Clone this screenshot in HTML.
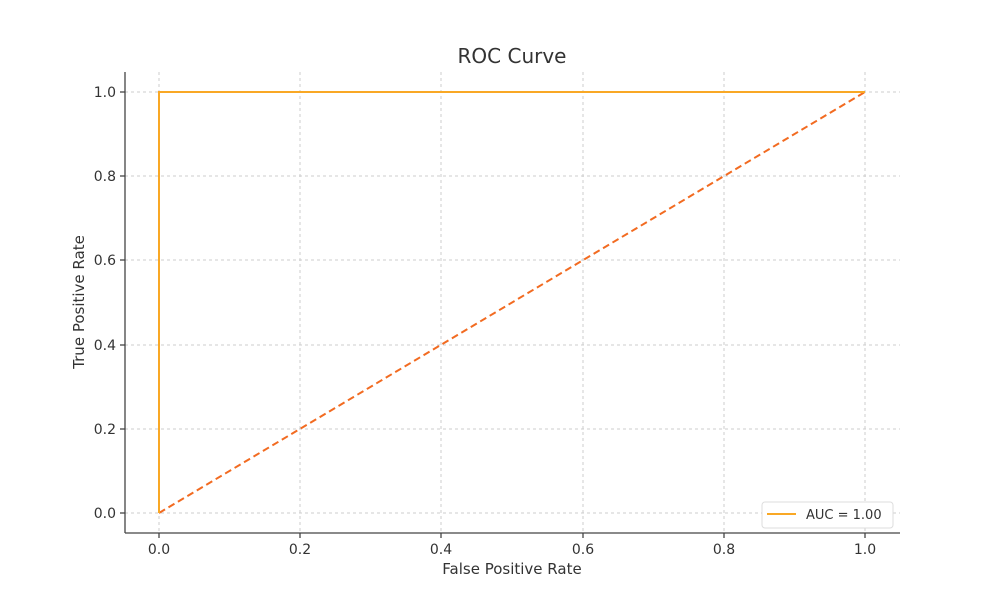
<!DOCTYPE html>
<html><head><style>body{margin:0;background:#fff}</style></head><body>
<svg width="1000" height="600" xmlns="http://www.w3.org/2000/svg" font-family="DejaVu Sans, Liberation Sans, sans-serif">
<rect width="1000" height="600" fill="#fff"/>
<g stroke="#ccc" stroke-width="1" stroke-dasharray="3,3">
<line x1="159" y1="72" x2="159" y2="533"/><line x1="300" y1="72" x2="300" y2="533"/><line x1="441" y1="72" x2="441" y2="533"/><line x1="583" y1="72" x2="583" y2="533"/><line x1="724" y1="72" x2="724" y2="533"/><line x1="865" y1="72" x2="865" y2="533"/>
<line x1="125" y1="92" x2="900" y2="92"/><line x1="125" y1="176" x2="900" y2="176"/><line x1="125" y1="260" x2="900" y2="260"/><line x1="125" y1="345" x2="900" y2="345"/><line x1="125" y1="429" x2="900" y2="429"/><line x1="125" y1="513" x2="900" y2="513"/>
</g>
<line x1="159" y1="513" x2="865" y2="92" stroke="#f26b21" stroke-width="2" stroke-dasharray="7,4"/>
<polyline points="159,513 159,92 865,92" fill="none" stroke="#f9a825" stroke-width="2"/>
<g stroke="#444" stroke-width="1.3">
<line x1="125" y1="72" x2="125" y2="533"/><line x1="125" y1="533" x2="900" y2="533"/>
<line x1="120" y1="92" x2="125" y2="92"/><line x1="120" y1="176" x2="125" y2="176"/><line x1="120" y1="260" x2="125" y2="260"/><line x1="120" y1="345" x2="125" y2="345"/><line x1="120" y1="429" x2="125" y2="429"/><line x1="120" y1="513" x2="125" y2="513"/>
<line x1="159" y1="533" x2="159" y2="538"/><line x1="300" y1="533" x2="300" y2="538"/><line x1="441" y1="533" x2="441" y2="538"/><line x1="583" y1="533" x2="583" y2="538"/><line x1="724" y1="533" x2="724" y2="538"/><line x1="865" y1="533" x2="865" y2="538"/>
</g>
<g font-size="14" fill="#333" text-anchor="end">
<text x="116" y="97">1.0</text><text x="116" y="181">0.8</text><text x="116" y="265">0.6</text><text x="116" y="350">0.4</text><text x="116" y="434">0.2</text><text x="116" y="518">0.0</text>
</g>
<g font-size="14" fill="#333" text-anchor="middle">
<text x="159" y="554">0.0</text><text x="300" y="554">0.2</text><text x="441" y="554">0.4</text><text x="583" y="554">0.6</text><text x="724" y="554">0.8</text><text x="865" y="554">1.0</text>
<text x="512" y="574" font-size="15">False Positive Rate</text>
<text x="512" y="63" font-size="20">ROC Curve</text>
<text transform="translate(84,302) rotate(-90)" font-size="15">True Positive Rate</text>
</g>
<rect x="762" y="502" width="131" height="26" rx="3" fill="#fff" stroke="#ddd"/>
<line x1="767" y1="514" x2="796" y2="514" stroke="#f9a825" stroke-width="2"/>
<text x="806" y="519" font-size="13" fill="#333">AUC = 1.00</text>
</svg>
</body></html>
